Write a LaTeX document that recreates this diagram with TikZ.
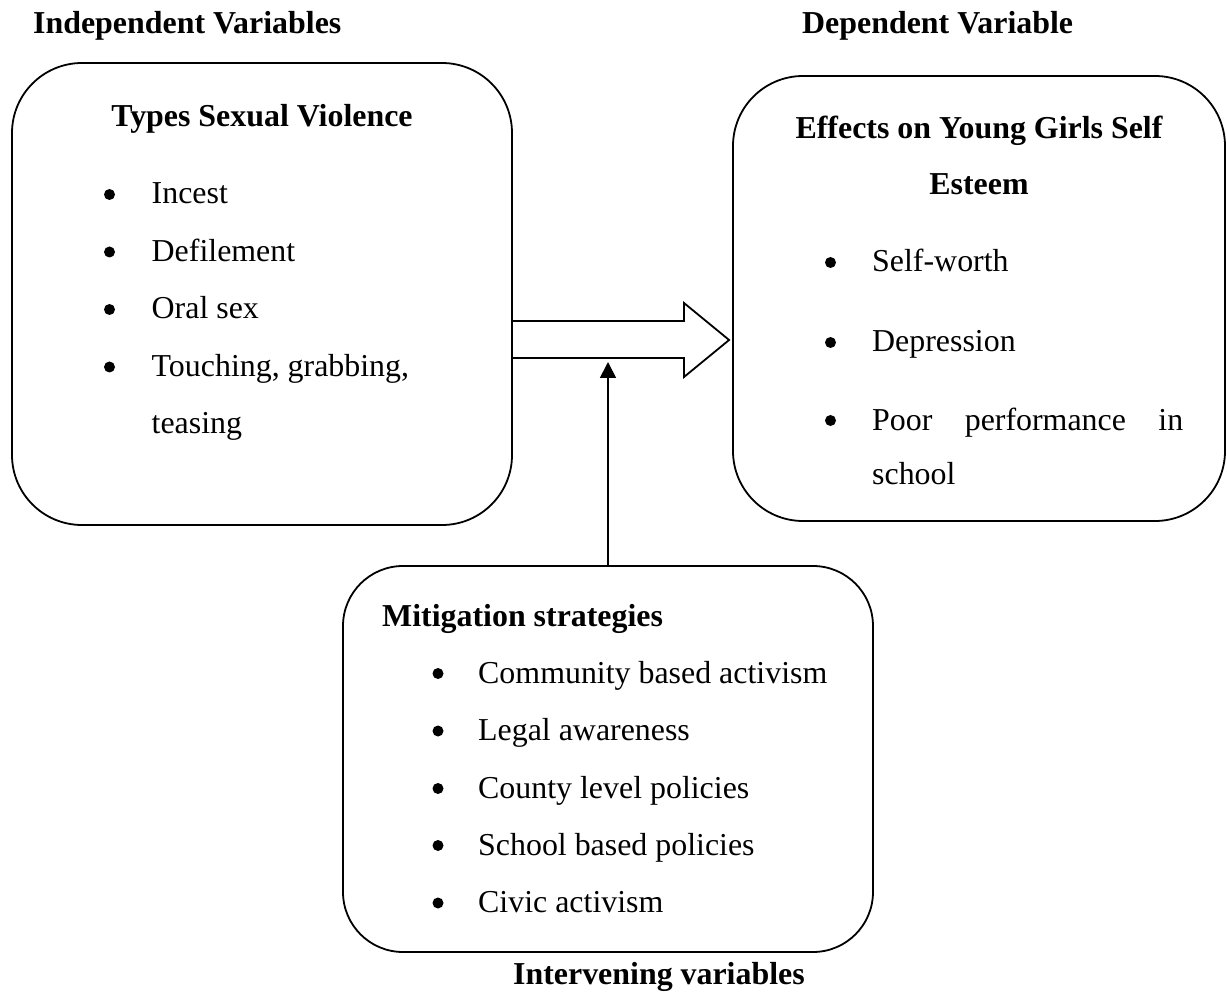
\documentclass[tikz,border=0pt]{standalone}
\usepackage{fontspec}
\setmainfont{Liberation Serif}
\usetikzlibrary{arrows.meta}
\begin{document}
\begin{tikzpicture}[x=1pt,y=-1pt,
  box/.style={draw, line width=1.8pt, rounded corners=#1, inner sep=0pt},
  txt/.style={anchor=base west, inner sep=0pt, font=\fontsize{31.9}{38}\selectfont},
  btxt/.style={txt, font=\fontsize{31.9}{38}\selectfont\bfseries},
  bul/.style={fill=black},
  conn/.style={line width=1.8pt}]
\useasboundingbox (0,0) rectangle (1227,992);

% boxes
\node[box=70pt, minimum width=500pt, minimum height=462pt] (ind) at (262,294) {};
\node[box=70pt, minimum width=492pt, minimum height=445pt] (dep) at (979,298.5) {};
\node[box=60pt, minimum width=530pt, minimum height=386pt] (mit) at (608,759) {};

% headings
\node[btxt] (hind) at (33,34) {Independent Variables};
\node[btxt] (hdep) at (802,34) {Dependent Variable};
\node[btxt] (hint) at (513,984) {Intervening variables};

% left box
\node[btxt, anchor=base] (tind) at (262,127) {Types Sexual Violence};
\node[txt] (i1) at (151.5,204) {Incest};
\node[txt] (i2) at (151.5,261.5) {Defilement};
\node[txt] (i3) at (151.5,319) {Oral sex};
\node[txt] (i4) at (151.5,376.5) {Touching, grabbing,};
\node[txt] (i5) at (151.5,434) {teasing};
\foreach \y in {204,261.5,319,376.5} \fill[bul] (109.5,\y-9.5) circle (5.5pt);

% right box
\node[btxt, anchor=base] (tdep1) at (979,139) {Effects on Young Girls Self};
\node[btxt, anchor=base] (tdep2) at (979,194.5) {Esteem};
\node[txt] (d1) at (872,272) {Self-worth};
\node[txt] (d2) at (872,352) {Depression};
\node[txt] (d3) at (872,430) {\makebox[311pt][s]{Poor performance in}};
\node[txt] (d4) at (872,484) {school};
\foreach \y in {272,352,430} \fill[bul] (830.5,\y-9.5) circle (5.5pt);

% bottom box
\node[btxt] (tmit) at (382,626) {Mitigation strategies};
\node[txt] (m1) at (478,683) {Community based activism};
\node[txt] (m2) at (478,740.5) {Legal awareness};
\node[txt] (m3) at (478,798) {County level policies};
\node[txt] (m4) at (478,855) {School based policies};
\node[txt] (m5) at (478,912.5) {Civic activism};
\foreach \y in {683,740.5,798,855,912.5} \fill[bul] (438,\y-9.5) circle (5.5pt);

% big hollow arrow from ind to dep
\coordinate (tipA) at ([xshift=-3pt]dep.west |- 0,340);
\draw[conn, line join=miter]
  (ind.east |- 0,321) -- (684,321) -- (684,303) -- (tipA)
  -- (684,377) -- (684,358) -- (ind.east |- 0,358);

% vertical arrow from mitigation box
\coordinate (tipV) at (mit.north |- 0,362);
\draw[conn, -{Triangle[length=16pt,width=16pt]}] (mit.north) -- (tipV);
\end{tikzpicture}
\end{document}
